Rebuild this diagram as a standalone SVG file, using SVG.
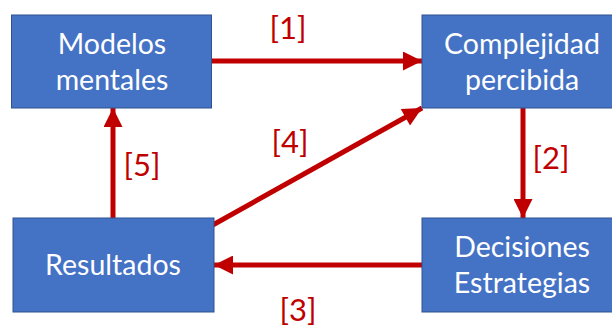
<svg xmlns="http://www.w3.org/2000/svg" width="612" height="329" viewBox="0 0 612 329">
  <style>
    .box { fill: #4472C4; stroke: #2F528F; stroke-width: 1; }
    .lbl { font-family: Lato, "Open Sans", "Liberation Sans", sans-serif; font-size: 28.5px; fill: #FFFFFF; text-anchor: middle; }
    .tag { font-family: Lato, "Open Sans", "Liberation Sans", sans-serif; font-size: 31px; fill: #C00000; text-anchor: middle; }
    .edge { stroke: #C00000; stroke-width: 5; fill: none; }
  </style>
  <defs>
    <marker id="head" viewBox="0 0 10 10" refX="10" refY="5" markerWidth="4" markerHeight="3.8" markerUnits="strokeWidth" orient="auto">
      <path d="M0,0 L10,5 L0,10 Z" fill="#C00000"/>
    </marker>
  </defs>

  <g id="connectors">
    <line class="edge" x1="212" y1="61" x2="422" y2="61" marker-end="url(#head)"/>
    <line class="edge" x1="523" y1="108" x2="523" y2="218" marker-end="url(#head)"/>
    <line class="edge" x1="422" y1="265" x2="214" y2="265" marker-end="url(#head)"/>
    <line class="edge" x1="202" y1="231" x2="422" y2="108" marker-end="url(#head)"/>
    <line class="edge" x1="113" y1="218" x2="113" y2="108" marker-end="url(#head)"/>
    <text class="tag" x="288" y="39">[1]</text>
    <text class="tag" x="551" y="169">[2]</text>
    <text class="tag" x="298" y="321">[3]</text>
    <text class="tag" x="290" y="153">[4]</text>
    <text class="tag" x="142" y="176">[5]</text>
  </g>

  <g id="modelos-mentales">
    <rect class="box" x="11.5" y="15" width="200" height="93"/>
    <text class="lbl" x="112" y="54">Modelos</text>
    <text class="lbl" x="112" y="90">mentales</text>
  </g>

  <g id="complejidad-percibida">
    <rect class="box" x="422" y="15" width="200" height="93"/>
    <text class="lbl" x="522" y="54">Complejidad</text>
    <text class="lbl" x="522" y="90">percibida</text>
  </g>

  <g id="decisiones-estrategias">
    <rect class="box" x="422" y="218" width="200" height="94"/>
    <text class="lbl" x="522" y="257">Decisiones</text>
    <text class="lbl" x="522" y="293">Estrategias</text>
  </g>

  <g id="resultados">
    <rect class="box" x="13" y="218" width="201" height="94"/>
    <text class="lbl" x="113" y="275">Resultados</text>
  </g>
</svg>
